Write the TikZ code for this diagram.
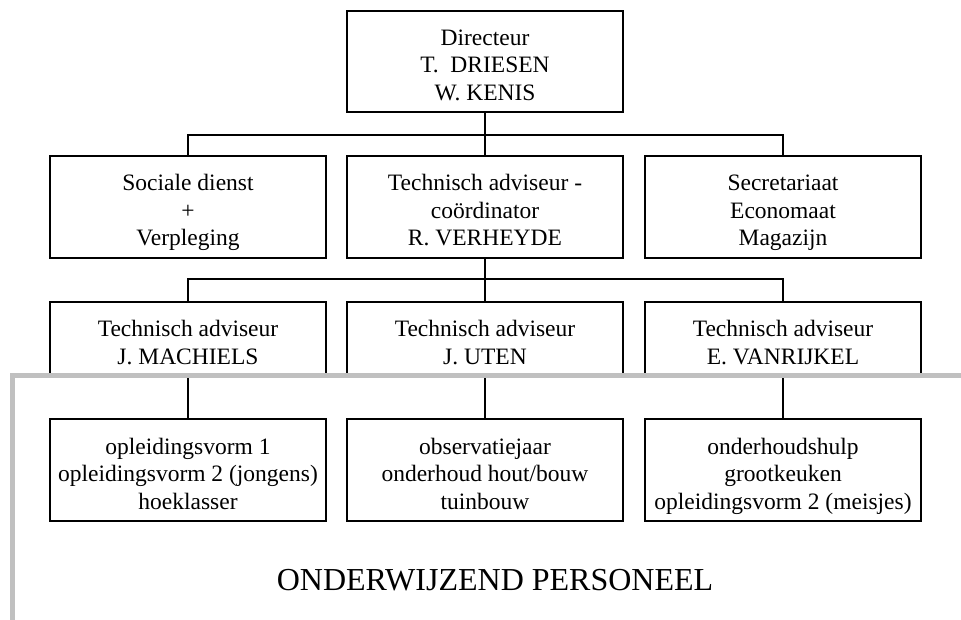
\documentclass[tikz,border=0pt]{standalone}
\usepackage{fontspec}
\setmainfont{Liberation Serif}
\usetikzlibrary{positioning}
\definecolor{framegray}{RGB}{192,192,192}
\newcommand{\ts}{\rule{0pt}{31pt}}
\newcommand{\bs}{\rule[-8pt]{0pt}{8pt}}
\tikzset{
    box/.style={draw,line width=1.6pt,minimum width=276pt,minimum height=102pt,align=center,inner sep=0pt,outer sep=0pt,
        font=\fontsize{23.5}{27.5}\selectfont},
    openbox/.style={box,minimum height=73.5pt},
    link/.style={-,line width=1.6pt},
    frame/.style={-,line width=5pt,draw=framegray}
}

\begin{document}
\begin{tikzpicture}[x=1pt,y=-1pt]

                \useasboundingbox (0,0) rectangle (961,620);

                \node[box] (dir) at (485,61.5) [minimum height=101pt] {\ts Directeur\\T.\ \ DRIESEN\\W. KENIS\bs};

                \node[box] (coo) [below=44pt of dir]  {\ts Technisch adviseur -\\coördinator\\R. VERHEYDE\bs};
                \node[box] (soc) [left=21pt of coo]   {\ts Sociale dienst\\+\\Verpleging\bs};
                \node[box] (sec) [right=22pt of coo]  {\ts Secretariaat\\Economaat\\Magazijn\bs};

                \node[openbox] (uten) [below=44pt of coo]  {\ts Technisch adviseur\\J. UTEN\bs};
                \node[openbox] (mach) [left=21pt of uten]  {\ts Technisch adviseur\\J. MACHIELS\bs};
                \node[openbox] (vanr) [right=22pt of uten] {\ts Technisch adviseur\\E. VANRIJKEL\bs};

                \node[box] (obs)  [below=43.5pt of uten] {\ts observatiejaar\\onderhoud hout/bouw\\tuinbouw\bs};
                \node[box] (opl)  [left=21pt of obs]     {\ts opleidingsvorm 1\\opleidingsvorm 2 (jongens)\\hoeklasser\bs};
                \node[box] (ond)  [right=22pt of obs]    {\ts onderhoudshulp\\grootkeuken\\opleidingsvorm 2 (meisjes)\bs};

                \node (pers) at (495,580) [font=\fontsize{32}{36}\selectfont,inner sep=0pt] {ONDERWIJZEND PERSONEEL};

                % connectors
                \draw[link] (dir.south) -- ++(0,23) coordinate (j1);
                \draw[link] (soc.north) |- (j1) -| (sec.north);
                \draw[link] (j1) -- (coo.north);

                \draw[link] (coo.south) -- ++(0,21) coordinate (j2);
                \draw[link] (mach.north) |- (j2) -| (vanr.north);
                \draw[link] (j2) -- (uten.north);

                \draw[link] (mach.south) -- (opl.north);
                \draw[link] (uten.south) -- (obs.north);
                \draw[link] (vanr.south) -- (ond.north);

                % grey frame
                \coordinate (fr) at (961,375.5);
                \coordinate (fb) at (12.5,620);
                \draw[frame] (fr) -| (fb);

            \end{tikzpicture}
\end{document}
